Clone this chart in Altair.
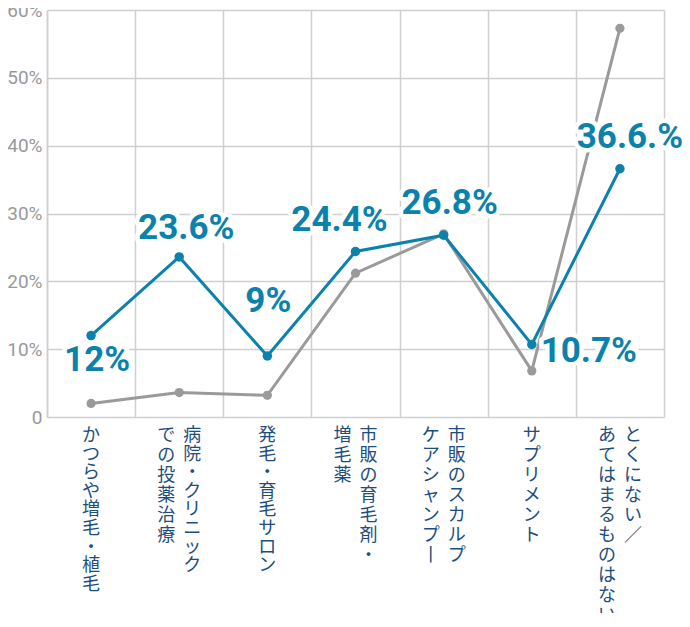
import altair as alt
import pandas as pd

# ---- data -------------------------------------------------------------
categories = [
    "かつらや増毛・植毛",
    "病院・クリニックでの投薬治療",
    "発毛・育毛サロン",
    "市販の育毛剤・増毛薬",
    "市販のスカルプケアシャンプー",
    "サプリメント",
    "とくにない／あてはまるものはない",
]
category_lines = [
    ["かつらや増毛・植毛"],
    ["病院・クリニック", "での投薬治療"],
    ["発毛・育毛サロン"],
    ["市販の育毛剤・", "増毛薬"],
    ["市販のスカルプ", "ケアシャンプー"],
    ["サプリメント"],
    ["とくにない／", "あてはまるものはない"],
]
blue_values = [12.0, 23.6, 9.0, 24.4, 26.8, 10.7, 36.6]
gray_values = [2.0, 3.6, 3.2, 21.2, 27.0, 6.8, 57.3]
value_labels = ["12%", "23.6%", "9%", "24.4%", "26.8%", "10.7%", "36.6.%"]
y_ticks = [0, 10, 20, 30, 40, 50, 60]

# label placement relative to each blue point (pixels)
label_offsets = [(6, 24), (7, -29), (1, -55), (-16, -31), (6, -32), (57, 7), (10, -32)]

BLUE = "#0a82ac"
GRAY = "#9a9a9a"
NAVY = "#1d4e7e"
GRID = "#cfcfcf"

df = pd.DataFrame({
    "pos": [i + 0.5 for i in range(len(categories))],
    "category": categories,
    "blue": blue_values,
    "gray": gray_values,
    "label": value_labels,
    "idx": list(range(len(categories))),
})


def vert(s):
    # stack characters for vertical writing; long-vowel mark becomes vertical
    return "\n".join("丨" if ch == "ー" else ch for ch in s)


rows = []
for i, lines in enumerate(category_lines):
    roles = ["single"] if len(lines) == 1 else ["right", "left"]
    for role, line in zip(roles, lines):
        # a middle dot inside a vertical column takes only half an advance
        tight = "・" in line[:-1]
        rows.append({"pos": i + 0.5, "role": role, "tight": tight, "text": vert(line)})
cat_df = pd.DataFrame(rows)

W, H = 617, 407

xs = alt.Scale(domain=[0, 7], nice=False, zero=False)
ys = alt.Scale(domain=[0, 60], nice=False)

x_axis = alt.Axis(values=list(range(8)), labels=False, ticks=False,
                  domain=False, grid=True, title=None,
                  gridColor=GRID, gridWidth=1.5)
y_axis = alt.Axis(values=y_ticks, ticks=False, title=None,
                  labelExpr="datum.value == 0 ? '0' : datum.value + '%'",
                  labelFontSize=19, labelColor="#999999",
                  labelFont="Liberation Sans Narrow, Roboto",
                  labelPadding=5, domainColor=GRID, domainWidth=1.5,
                  gridColor=GRID, gridWidth=1.5)

base = alt.Chart(df)

gray_line = base.mark_line(color=GRAY, strokeWidth=3).encode(
    x=alt.X("pos:Q", scale=xs, axis=x_axis),
    y=alt.Y("gray:Q", scale=ys, axis=y_axis),
)
gray_pts = base.mark_circle(color=GRAY, size=85, opacity=1).encode(
    x=alt.X("pos:Q", scale=xs), y=alt.Y("gray:Q", scale=ys)
)
blue_line = base.mark_line(color=BLUE, strokeWidth=3).encode(
    x=alt.X("pos:Q", scale=xs), y=alt.Y("blue:Q", scale=ys)
)
blue_pts = base.mark_circle(color=BLUE, size=90, opacity=1).encode(
    x=alt.X("pos:Q", scale=xs), y=alt.Y("blue:Q", scale=ys)
)

layers = [gray_line, gray_pts, blue_line, blue_pts]

label_font = dict(font="Roboto", fontSize=35, fontWeight="bold",
                  align="center", baseline="middle")
for i, (dx, dy) in enumerate(label_offsets):
    sel = base.transform_filter(alt.datum.idx == i)
    halo = sel.mark_text(dx=dx, dy=dy, color="white", stroke="white",
                         strokeWidth=9, strokeJoin="round", **label_font).encode(
        x=alt.X("pos:Q", scale=xs), y=alt.Y("blue:Q", scale=ys), text="label:N")
    txt = sel.mark_text(dx=dx, dy=dy, color=BLUE, **label_font).encode(
        x=alt.X("pos:Q", scale=xs), y=alt.Y("blue:Q", scale=ys), text="label:N")
    layers += [halo, txt]

cat_base = alt.Chart(cat_df)
for role, dx in [("single", 0), ("right", 13), ("left", -13)]:
    for tight, lh in [(False, 20), (True, 18.6)]:
        layers.append(
            cat_base.transform_filter(
                (alt.datum.role == role) & (alt.datum.tight == tight)
            ).mark_text(
                dx=dx, lineBreak="\n", lineHeight=lh, font="Noto Sans CJK JP",
                fontSize=18, color=NAVY, align="center", baseline="top"
            ).encode(x=alt.X("pos:Q", scale=xs), y=alt.value(H + 10), text="text:N")
        )

chart = alt.layer(*layers).properties(
    width=W, height=H,
    padding={"left": 39, "top": 2, "right": 18, "bottom": 196},
    autosize="none",
).configure_view(stroke=None)

chart.save("out.html", embed_options={"renderer": "svg", "actions": False})
